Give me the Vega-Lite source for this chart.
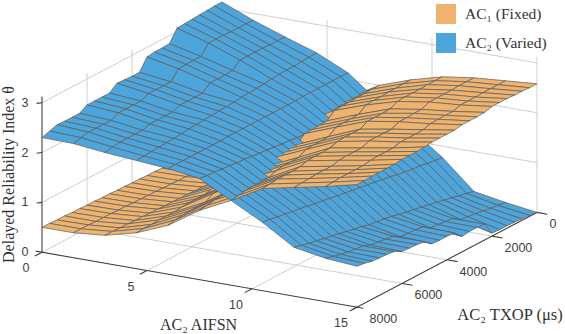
{"$schema":"https://vega.github.io/schema/vega-lite/v6.json","width":565,"height":334,"padding":0,"autosize":{"type":"fit","contains":"padding"},"background":"white","config":{"view":{"stroke":null}},
"datasets":{
"surface":[
{"s":"AC1","a":0,"t":0,"z":0.38},{"s":"AC2","a":0,"t":0,"z":3.12},{"s":"AC1","a":0,"t":333,"z":0.39},{"s":"AC2","a":0,"t":333,"z":3.12},{"s":"AC1","a":0,"t":667,"z":0.39},{"s":"AC2","a":0,"t":667,"z":3.11},{"s":"AC1","a":0,"t":1000,"z":0.4},{"s":"AC2","a":0,"t":1000,"z":3.1},{"s":"AC1","a":0,"t":1333,"z":0.4},{"s":"AC2","a":0,"t":1333,"z":3.09},{"s":"AC1","a":0,"t":1667,"z":0.41},{"s":"AC2","a":0,"t":1667,"z":3.08},{"s":"AC1","a":0,"t":2000,"z":0.41},{"s":"AC2","a":0,"t":2000,"z":3.07},{"s":"AC1","a":0,"t":2333,"z":0.42},{"s":"AC2","a":0,"t":2333,"z":2.84},{"s":"AC1","a":0,"t":2667,"z":0.42},{"s":"AC2","a":0,"t":2667,"z":2.83},{"s":"AC1","a":0,"t":3000,"z":0.43},{"s":"AC2","a":0,"t":3000,"z":2.83},{"s":"AC1","a":0,"t":3333,"z":0.43},{"s":"AC2","a":0,"t":3333,"z":2.81},{"s":"AC1","a":0,"t":3667,"z":0.44},{"s":"AC2","a":0,"t":3667,"z":2.58},{"s":"AC1","a":0,"t":4000,"z":0.44},{"s":"AC2","a":0,"t":4000,"z":2.58},{"s":"AC1","a":0,"t":4333,"z":0.45},{"s":"AC2","a":0,"t":4333,"z":2.59},{"s":"AC1","a":0,"t":4667,"z":0.45},{"s":"AC2","a":0,"t":4667,"z":2.6},{"s":"AC1","a":0,"t":5000,"z":0.46},{"s":"AC2","a":0,"t":5000,"z":2.48},{"s":"AC1","a":0,"t":5333,"z":0.46},{"s":"AC2","a":0,"t":5333,"z":2.48},{"s":"AC1","a":0,"t":5667,"z":0.47},{"s":"AC2","a":0,"t":5667,"z":2.48},{"s":"AC1","a":0,"t":6000,"z":0.47},{"s":"AC2","a":0,"t":6000,"z":2.48},{"s":"AC1","a":0,"t":6333,"z":0.48},{"s":"AC2","a":0,"t":6333,"z":2.39},{"s":"AC1","a":0,"t":6667,"z":0.48},{"s":"AC2","a":0,"t":6667,"z":2.39},{"s":"AC1","a":0,"t":7000,"z":0.49},{"s":"AC2","a":0,"t":7000,"z":2.39},{"s":"AC1","a":0,"t":7333,"z":0.49},{"s":"AC2","a":0,"t":7333,"z":2.4},{"s":"AC1","a":0,"t":7667,"z":0.5},{"s":"AC2","a":0,"t":7667,"z":2.35},{"s":"AC1","a":0,"t":8000,"z":0.5},{"s":"AC2","a":0,"t":8000,"z":2.3},
{"s":"AC1","a":1.5,"t":0,"z":0.39},{"s":"AC2","a":1.5,"t":0,"z":2.86},{"s":"AC1","a":1.5,"t":333,"z":0.4},{"s":"AC2","a":1.5,"t":333,"z":2.87},{"s":"AC1","a":1.5,"t":667,"z":0.4},{"s":"AC2","a":1.5,"t":667,"z":2.87},{"s":"AC1","a":1.5,"t":1000,"z":0.41},{"s":"AC2","a":1.5,"t":1000,"z":2.87},{"s":"AC1","a":1.5,"t":1333,"z":0.41},{"s":"AC2","a":1.5,"t":1333,"z":2.88},{"s":"AC1","a":1.5,"t":1667,"z":0.42},{"s":"AC2","a":1.5,"t":1667,"z":2.88},{"s":"AC1","a":1.5,"t":2000,"z":0.42},{"s":"AC2","a":1.5,"t":2000,"z":2.88},{"s":"AC1","a":1.5,"t":2333,"z":0.43},{"s":"AC2","a":1.5,"t":2333,"z":2.69},{"s":"AC1","a":1.5,"t":2667,"z":0.43},{"s":"AC2","a":1.5,"t":2667,"z":2.69},{"s":"AC1","a":1.5,"t":3000,"z":0.44},{"s":"AC2","a":1.5,"t":3000,"z":2.69},{"s":"AC1","a":1.5,"t":3333,"z":0.44},{"s":"AC2","a":1.5,"t":3333,"z":2.68},{"s":"AC1","a":1.5,"t":3667,"z":0.45},{"s":"AC2","a":1.5,"t":3667,"z":2.5},{"s":"AC1","a":1.5,"t":4000,"z":0.45},{"s":"AC2","a":1.5,"t":4000,"z":2.5},{"s":"AC1","a":1.5,"t":4333,"z":0.46},{"s":"AC2","a":1.5,"t":4333,"z":2.5},{"s":"AC1","a":1.5,"t":4667,"z":0.46},{"s":"AC2","a":1.5,"t":4667,"z":2.5},{"s":"AC1","a":1.5,"t":5000,"z":0.47},{"s":"AC2","a":1.5,"t":5000,"z":2.43},{"s":"AC1","a":1.5,"t":5333,"z":0.47},{"s":"AC2","a":1.5,"t":5333,"z":2.43},{"s":"AC1","a":1.5,"t":5667,"z":0.48},{"s":"AC2","a":1.5,"t":5667,"z":2.43},{"s":"AC1","a":1.5,"t":6000,"z":0.48},{"s":"AC2","a":1.5,"t":6000,"z":2.43},{"s":"AC1","a":1.5,"t":6333,"z":0.49},{"s":"AC2","a":1.5,"t":6333,"z":2.36},{"s":"AC1","a":1.5,"t":6667,"z":0.49},{"s":"AC2","a":1.5,"t":6667,"z":2.36},{"s":"AC1","a":1.5,"t":7000,"z":0.49},{"s":"AC2","a":1.5,"t":7000,"z":2.36},{"s":"AC1","a":1.5,"t":7333,"z":0.5},{"s":"AC2","a":1.5,"t":7333,"z":2.36},{"s":"AC1","a":1.5,"t":7667,"z":0.5},{"s":"AC2","a":1.5,"t":7667,"z":2.33},{"s":"AC1","a":1.5,"t":8000,"z":0.5},{"s":"AC2","a":1.5,"t":8000,"z":2.29},
{"s":"AC1","a":3,"t":0,"z":0.43},{"s":"AC2","a":3,"t":0,"z":2.64},{"s":"AC1","a":3,"t":333,"z":0.44},{"s":"AC2","a":3,"t":333,"z":2.64},{"s":"AC1","a":3,"t":667,"z":0.45},{"s":"AC2","a":3,"t":667,"z":2.64},{"s":"AC1","a":3,"t":1000,"z":0.46},{"s":"AC2","a":3,"t":1000,"z":2.65},{"s":"AC1","a":3,"t":1333,"z":0.46},{"s":"AC2","a":3,"t":1333,"z":2.65},{"s":"AC1","a":3,"t":1667,"z":0.47},{"s":"AC2","a":3,"t":1667,"z":2.65},{"s":"AC1","a":3,"t":2000,"z":0.47},{"s":"AC2","a":3,"t":2000,"z":2.65},{"s":"AC1","a":3,"t":2333,"z":0.48},{"s":"AC2","a":3,"t":2333,"z":2.52},{"s":"AC1","a":3,"t":2667,"z":0.48},{"s":"AC2","a":3,"t":2667,"z":2.51},{"s":"AC1","a":3,"t":3000,"z":0.49},{"s":"AC2","a":3,"t":3000,"z":2.51},{"s":"AC1","a":3,"t":3333,"z":0.49},{"s":"AC2","a":3,"t":3333,"z":2.51},{"s":"AC1","a":3,"t":3667,"z":0.5},{"s":"AC2","a":3,"t":3667,"z":2.38},{"s":"AC1","a":3,"t":4000,"z":0.5},{"s":"AC2","a":3,"t":4000,"z":2.38},{"s":"AC1","a":3,"t":4333,"z":0.51},{"s":"AC2","a":3,"t":4333,"z":2.38},{"s":"AC1","a":3,"t":4667,"z":0.51},{"s":"AC2","a":3,"t":4667,"z":2.38},{"s":"AC1","a":3,"t":5000,"z":0.52},{"s":"AC2","a":3,"t":5000,"z":2.32},{"s":"AC1","a":3,"t":5333,"z":0.52},{"s":"AC2","a":3,"t":5333,"z":2.32},{"s":"AC1","a":3,"t":5667,"z":0.53},{"s":"AC2","a":3,"t":5667,"z":2.32},{"s":"AC1","a":3,"t":6000,"z":0.53},{"s":"AC2","a":3,"t":6000,"z":2.32},{"s":"AC1","a":3,"t":6333,"z":0.54},{"s":"AC2","a":3,"t":6333,"z":2.27},{"s":"AC1","a":3,"t":6667,"z":0.54},{"s":"AC2","a":3,"t":6667,"z":2.27},{"s":"AC1","a":3,"t":7000,"z":0.55},{"s":"AC2","a":3,"t":7000,"z":2.27},{"s":"AC1","a":3,"t":7333,"z":0.55},{"s":"AC2","a":3,"t":7333,"z":2.27},{"s":"AC1","a":3,"t":7667,"z":0.56},{"s":"AC2","a":3,"t":7667,"z":2.25},{"s":"AC1","a":3,"t":8000,"z":0.56},{"s":"AC2","a":3,"t":8000,"z":2.22},
{"s":"AC1","a":4.5,"t":0,"z":0.9},{"s":"AC2","a":4.5,"t":0,"z":2.43},{"s":"AC1","a":4.5,"t":333,"z":0.9},{"s":"AC2","a":4.5,"t":333,"z":2.42},{"s":"AC1","a":4.5,"t":667,"z":0.9},{"s":"AC2","a":4.5,"t":667,"z":2.41},{"s":"AC1","a":4.5,"t":1000,"z":0.9},{"s":"AC2","a":4.5,"t":1000,"z":2.4},{"s":"AC1","a":4.5,"t":1333,"z":0.89},{"s":"AC2","a":4.5,"t":1333,"z":2.4},{"s":"AC1","a":4.5,"t":1667,"z":0.89},{"s":"AC2","a":4.5,"t":1667,"z":2.39},{"s":"AC1","a":4.5,"t":2000,"z":0.89},{"s":"AC2","a":4.5,"t":2000,"z":2.38},{"s":"AC1","a":4.5,"t":2333,"z":0.85},{"s":"AC2","a":4.5,"t":2333,"z":2.36},{"s":"AC1","a":4.5,"t":2667,"z":0.85},{"s":"AC2","a":4.5,"t":2667,"z":2.35},{"s":"AC1","a":4.5,"t":3000,"z":0.85},{"s":"AC2","a":4.5,"t":3000,"z":2.34},{"s":"AC1","a":4.5,"t":3333,"z":0.85},{"s":"AC2","a":4.5,"t":3333,"z":2.33},{"s":"AC1","a":4.5,"t":3667,"z":0.81},{"s":"AC2","a":4.5,"t":3667,"z":2.31},{"s":"AC1","a":4.5,"t":4000,"z":0.8},{"s":"AC2","a":4.5,"t":4000,"z":2.3},{"s":"AC1","a":4.5,"t":4333,"z":0.8},{"s":"AC2","a":4.5,"t":4333,"z":2.29},{"s":"AC1","a":4.5,"t":4667,"z":0.8},{"s":"AC2","a":4.5,"t":4667,"z":2.28},{"s":"AC1","a":4.5,"t":5000,"z":0.77},{"s":"AC2","a":4.5,"t":5000,"z":2.27},{"s":"AC1","a":4.5,"t":5333,"z":0.77},{"s":"AC2","a":4.5,"t":5333,"z":2.26},{"s":"AC1","a":4.5,"t":5667,"z":0.77},{"s":"AC2","a":4.5,"t":5667,"z":2.25},{"s":"AC1","a":4.5,"t":6000,"z":0.76},{"s":"AC2","a":4.5,"t":6000,"z":2.23},{"s":"AC1","a":4.5,"t":6333,"z":0.74},{"s":"AC2","a":4.5,"t":6333,"z":2.22},{"s":"AC1","a":4.5,"t":6667,"z":0.74},{"s":"AC2","a":4.5,"t":6667,"z":2.21},{"s":"AC1","a":4.5,"t":7000,"z":0.74},{"s":"AC2","a":4.5,"t":7000,"z":2.2},{"s":"AC1","a":4.5,"t":7333,"z":0.73},{"s":"AC2","a":4.5,"t":7333,"z":2.19},{"s":"AC1","a":4.5,"t":7667,"z":0.73},{"s":"AC2","a":4.5,"t":7667,"z":2.18},{"s":"AC1","a":4.5,"t":8000,"z":0.72},{"s":"AC2","a":4.5,"t":8000,"z":2.17},
{"s":"AC1","a":6,"t":0,"z":1.65},{"s":"AC2","a":6,"t":0,"z":2.14},{"s":"AC1","a":6,"t":333,"z":1.65},{"s":"AC2","a":6,"t":333,"z":2.14},{"s":"AC1","a":6,"t":667,"z":1.64},{"s":"AC2","a":6,"t":667,"z":2.14},{"s":"AC1","a":6,"t":1000,"z":1.64},{"s":"AC2","a":6,"t":1000,"z":2.14},{"s":"AC1","a":6,"t":1333,"z":1.63},{"s":"AC2","a":6,"t":1333,"z":2.14},{"s":"AC1","a":6,"t":1667,"z":1.62},{"s":"AC2","a":6,"t":1667,"z":2.14},{"s":"AC1","a":6,"t":2000,"z":1.62},{"s":"AC2","a":6,"t":2000,"z":2.14},{"s":"AC1","a":6,"t":2333,"z":1.47},{"s":"AC2","a":6,"t":2333,"z":2.13},{"s":"AC1","a":6,"t":2667,"z":1.46},{"s":"AC2","a":6,"t":2667,"z":2.13},{"s":"AC1","a":6,"t":3000,"z":1.46},{"s":"AC2","a":6,"t":3000,"z":2.13},{"s":"AC1","a":6,"t":3333,"z":1.45},{"s":"AC2","a":6,"t":3333,"z":2.13},{"s":"AC1","a":6,"t":3667,"z":1.3},{"s":"AC2","a":6,"t":3667,"z":2.13},{"s":"AC1","a":6,"t":4000,"z":1.29},{"s":"AC2","a":6,"t":4000,"z":2.13},{"s":"AC1","a":6,"t":4333,"z":1.29},{"s":"AC2","a":6,"t":4333,"z":2.13},{"s":"AC1","a":6,"t":4667,"z":1.28},{"s":"AC2","a":6,"t":4667,"z":2.13},{"s":"AC1","a":6,"t":5000,"z":1.17},{"s":"AC2","a":6,"t":5000,"z":2.13},{"s":"AC1","a":6,"t":5333,"z":1.16},{"s":"AC2","a":6,"t":5333,"z":2.13},{"s":"AC1","a":6,"t":5667,"z":1.15},{"s":"AC2","a":6,"t":5667,"z":2.12},{"s":"AC1","a":6,"t":6000,"z":1.14},{"s":"AC2","a":6,"t":6000,"z":2.12},{"s":"AC1","a":6,"t":6333,"z":1.05},{"s":"AC2","a":6,"t":6333,"z":2.12},{"s":"AC1","a":6,"t":6667,"z":1.05},{"s":"AC2","a":6,"t":6667,"z":2.12},{"s":"AC1","a":6,"t":7000,"z":1.04},{"s":"AC2","a":6,"t":7000,"z":2.12},{"s":"AC1","a":6,"t":7333,"z":1.03},{"s":"AC2","a":6,"t":7333,"z":2.12},{"s":"AC1","a":6,"t":7667,"z":1.01},{"s":"AC2","a":6,"t":7667,"z":2.12},{"s":"AC1","a":6,"t":8000,"z":0.98},{"s":"AC2","a":6,"t":8000,"z":2.12},
{"s":"AC2","a":7.5,"t":0,"z":1.65},{"s":"AC1","a":7.5,"t":0,"z":2},{"s":"AC2","a":7.5,"t":333,"z":1.67},{"s":"AC1","a":7.5,"t":333,"z":2},{"s":"AC2","a":7.5,"t":667,"z":1.68},{"s":"AC1","a":7.5,"t":667,"z":1.99},{"s":"AC2","a":7.5,"t":1000,"z":1.69},{"s":"AC1","a":7.5,"t":1000,"z":1.99},{"s":"AC2","a":7.5,"t":1333,"z":1.7},{"s":"AC1","a":7.5,"t":1333,"z":1.98},{"s":"AC2","a":7.5,"t":1667,"z":1.72},{"s":"AC1","a":7.5,"t":1667,"z":1.98},{"s":"AC2","a":7.5,"t":2000,"z":1.73},{"s":"AC1","a":7.5,"t":2000,"z":1.97},{"s":"AC2","a":7.5,"t":2333,"z":1.76},{"s":"AC1","a":7.5,"t":2333,"z":1.84},{"s":"AC2","a":7.5,"t":2667,"z":1.77},{"s":"AC1","a":7.5,"t":2667,"z":1.83},{"s":"AC2","a":7.5,"t":3000,"z":1.79},{"s":"AC1","a":7.5,"t":3000,"z":1.82},{"s":"AC2","a":7.5,"t":3333,"z":1.8},{"s":"AC1","a":7.5,"t":3333,"z":1.82},{"s":"AC2","a":7.5,"t":3667,"z":1.82},{"s":"AC1","a":7.5,"t":3667,"z":1.68},{"s":"AC2","a":7.5,"t":4000,"z":1.84},{"s":"AC1","a":7.5,"t":4000,"z":1.68},{"s":"AC2","a":7.5,"t":4333,"z":1.85},{"s":"AC1","a":7.5,"t":4333,"z":1.67},{"s":"AC2","a":7.5,"t":4667,"z":1.87},{"s":"AC1","a":7.5,"t":4667,"z":1.66},{"s":"AC2","a":7.5,"t":5000,"z":1.89},{"s":"AC1","a":7.5,"t":5000,"z":1.56},{"s":"AC1","a":7.5,"t":5333,"z":1.55},{"s":"AC2","a":7.5,"t":5333,"z":1.9},{"s":"AC1","a":7.5,"t":5667,"z":1.55},{"s":"AC2","a":7.5,"t":5667,"z":1.92},{"s":"AC1","a":7.5,"t":6000,"z":1.54},{"s":"AC2","a":7.5,"t":6000,"z":1.94},{"s":"AC1","a":7.5,"t":6333,"z":1.46},{"s":"AC2","a":7.5,"t":6333,"z":1.95},{"s":"AC1","a":7.5,"t":6667,"z":1.45},{"s":"AC2","a":7.5,"t":6667,"z":1.97},{"s":"AC1","a":7.5,"t":7000,"z":1.44},{"s":"AC2","a":7.5,"t":7000,"z":1.98},{"s":"AC1","a":7.5,"t":7333,"z":1.44},{"s":"AC2","a":7.5,"t":7333,"z":2},{"s":"AC1","a":7.5,"t":7667,"z":1.41},{"s":"AC2","a":7.5,"t":7667,"z":2.01},{"s":"AC1","a":7.5,"t":8000,"z":1.39},{"s":"AC2","a":7.5,"t":8000,"z":2.03},
{"s":"AC2","a":9,"t":0,"z":1.22},{"s":"AC1","a":9,"t":0,"z":2.22},{"s":"AC2","a":9,"t":333,"z":1.24},{"s":"AC1","a":9,"t":333,"z":2.22},{"s":"AC2","a":9,"t":667,"z":1.25},{"s":"AC1","a":9,"t":667,"z":2.21},{"s":"AC2","a":9,"t":1000,"z":1.27},{"s":"AC1","a":9,"t":1000,"z":2.21},{"s":"AC2","a":9,"t":1333,"z":1.29},{"s":"AC1","a":9,"t":1333,"z":2.2},{"s":"AC2","a":9,"t":1667,"z":1.31},{"s":"AC1","a":9,"t":1667,"z":2.2},{"s":"AC2","a":9,"t":2000,"z":1.33},{"s":"AC1","a":9,"t":2000,"z":2.19},{"s":"AC2","a":9,"t":2333,"z":1.35},{"s":"AC1","a":9,"t":2333,"z":2.08},{"s":"AC2","a":9,"t":2667,"z":1.37},{"s":"AC1","a":9,"t":2667,"z":2.07},{"s":"AC2","a":9,"t":3000,"z":1.39},{"s":"AC1","a":9,"t":3000,"z":2.07},{"s":"AC2","a":9,"t":3333,"z":1.41},{"s":"AC1","a":9,"t":3333,"z":2.06},{"s":"AC2","a":9,"t":3667,"z":1.44},{"s":"AC1","a":9,"t":3667,"z":1.95},{"s":"AC2","a":9,"t":4000,"z":1.46},{"s":"AC1","a":9,"t":4000,"z":1.94},{"s":"AC2","a":9,"t":4333,"z":1.47},{"s":"AC1","a":9,"t":4333,"z":1.94},{"s":"AC2","a":9,"t":4667,"z":1.49},{"s":"AC1","a":9,"t":4667,"z":1.93},{"s":"AC2","a":9,"t":5000,"z":1.52},{"s":"AC1","a":9,"t":5000,"z":1.85},{"s":"AC2","a":9,"t":5333,"z":1.54},{"s":"AC1","a":9,"t":5333,"z":1.84},{"s":"AC2","a":9,"t":5667,"z":1.56},{"s":"AC1","a":9,"t":5667,"z":1.84},{"s":"AC2","a":9,"t":6000,"z":1.58},{"s":"AC1","a":9,"t":6000,"z":1.82},{"s":"AC2","a":9,"t":6333,"z":1.6},{"s":"AC1","a":9,"t":6333,"z":1.76},{"s":"AC2","a":9,"t":6667,"z":1.62},{"s":"AC1","a":9,"t":6667,"z":1.75},{"s":"AC2","a":9,"t":7000,"z":1.64},{"s":"AC1","a":9,"t":7000,"z":1.75},{"s":"AC2","a":9,"t":7333,"z":1.66},{"s":"AC1","a":9,"t":7333,"z":1.74},{"s":"AC2","a":9,"t":7667,"z":1.68},{"s":"AC1","a":9,"t":7667,"z":1.72},{"s":"AC2","a":9,"t":8000,"z":1.7},{"s":"AC1","a":9,"t":8000,"z":1.7},
{"s":"AC2","a":10.5,"t":0,"z":0.77},{"s":"AC1","a":10.5,"t":0,"z":2.39},{"s":"AC2","a":10.5,"t":333,"z":0.79},{"s":"AC1","a":10.5,"t":333,"z":2.39},{"s":"AC2","a":10.5,"t":667,"z":0.81},{"s":"AC1","a":10.5,"t":667,"z":2.39},{"s":"AC2","a":10.5,"t":1000,"z":0.84},{"s":"AC1","a":10.5,"t":1000,"z":2.38},{"s":"AC2","a":10.5,"t":1333,"z":0.85},{"s":"AC1","a":10.5,"t":1333,"z":2.38},{"s":"AC2","a":10.5,"t":1667,"z":0.88},{"s":"AC1","a":10.5,"t":1667,"z":2.38},{"s":"AC2","a":10.5,"t":2000,"z":0.9},{"s":"AC1","a":10.5,"t":2000,"z":2.37},{"s":"AC2","a":10.5,"t":2333,"z":0.94},{"s":"AC1","a":10.5,"t":2333,"z":2.3},{"s":"AC2","a":10.5,"t":2667,"z":0.96},{"s":"AC1","a":10.5,"t":2667,"z":2.29},{"s":"AC2","a":10.5,"t":3000,"z":0.99},{"s":"AC1","a":10.5,"t":3000,"z":2.29},{"s":"AC2","a":10.5,"t":3333,"z":1.01},{"s":"AC1","a":10.5,"t":3333,"z":2.29},{"s":"AC2","a":10.5,"t":3667,"z":1.04},{"s":"AC1","a":10.5,"t":3667,"z":2.21},{"s":"AC2","a":10.5,"t":4000,"z":1.06},{"s":"AC1","a":10.5,"t":4000,"z":2.21},{"s":"AC2","a":10.5,"t":4333,"z":1.09},{"s":"AC1","a":10.5,"t":4333,"z":2.21},{"s":"AC2","a":10.5,"t":4667,"z":1.11},{"s":"AC1","a":10.5,"t":4667,"z":2.2},{"s":"AC2","a":10.5,"t":5000,"z":1.14},{"s":"AC1","a":10.5,"t":5000,"z":2.15},{"s":"AC2","a":10.5,"t":5333,"z":1.17},{"s":"AC1","a":10.5,"t":5333,"z":2.14},{"s":"AC2","a":10.5,"t":5667,"z":1.19},{"s":"AC1","a":10.5,"t":5667,"z":2.14},{"s":"AC2","a":10.5,"t":6000,"z":1.22},{"s":"AC1","a":10.5,"t":6000,"z":2.13},{"s":"AC2","a":10.5,"t":6333,"z":1.25},{"s":"AC1","a":10.5,"t":6333,"z":2.09},{"s":"AC2","a":10.5,"t":6667,"z":1.27},{"s":"AC1","a":10.5,"t":6667,"z":2.08},{"s":"AC2","a":10.5,"t":7000,"z":1.3},{"s":"AC1","a":10.5,"t":7000,"z":2.08},{"s":"AC2","a":10.5,"t":7333,"z":1.32},{"s":"AC1","a":10.5,"t":7333,"z":2.08},{"s":"AC2","a":10.5,"t":7667,"z":1.35},{"s":"AC1","a":10.5,"t":7667,"z":2.06},{"s":"AC2","a":10.5,"t":8000,"z":1.37},{"s":"AC1","a":10.5,"t":8000,"z":2.05},
{"s":"AC2","a":12,"t":0,"z":0.2},{"s":"AC1","a":12,"t":0,"z":2.48},{"s":"AC2","a":12,"t":333,"z":0.24},{"s":"AC1","a":12,"t":333,"z":2.48},{"s":"AC2","a":12,"t":667,"z":0.27},{"s":"AC1","a":12,"t":667,"z":2.48},{"s":"AC2","a":12,"t":1000,"z":0.31},{"s":"AC1","a":12,"t":1000,"z":2.47},{"s":"AC2","a":12,"t":1333,"z":0.34},{"s":"AC1","a":12,"t":1333,"z":2.47},{"s":"AC2","a":12,"t":1667,"z":0.38},{"s":"AC1","a":12,"t":1667,"z":2.47},{"s":"AC2","a":12,"t":2000,"z":0.41},{"s":"AC1","a":12,"t":2000,"z":2.47},{"s":"AC2","a":12,"t":2333,"z":0.44},{"s":"AC1","a":12,"t":2333,"z":2.4},{"s":"AC2","a":12,"t":2667,"z":0.47},{"s":"AC1","a":12,"t":2667,"z":2.4},{"s":"AC2","a":12,"t":3000,"z":0.5},{"s":"AC1","a":12,"t":3000,"z":2.39},{"s":"AC2","a":12,"t":3333,"z":0.53},{"s":"AC1","a":12,"t":3333,"z":2.39},{"s":"AC2","a":12,"t":3667,"z":0.57},{"s":"AC1","a":12,"t":3667,"z":2.32},{"s":"AC2","a":12,"t":4000,"z":0.6},{"s":"AC1","a":12,"t":4000,"z":2.32},{"s":"AC2","a":12,"t":4333,"z":0.62},{"s":"AC1","a":12,"t":4333,"z":2.32},{"s":"AC2","a":12,"t":4667,"z":0.64},{"s":"AC1","a":12,"t":4667,"z":2.32},{"s":"AC2","a":12,"t":5000,"z":0.68},{"s":"AC1","a":12,"t":5000,"z":2.26},{"s":"AC2","a":12,"t":5333,"z":0.71},{"s":"AC1","a":12,"t":5333,"z":2.26},{"s":"AC2","a":12,"t":5667,"z":0.74},{"s":"AC1","a":12,"t":5667,"z":2.26},{"s":"AC2","a":12,"t":6000,"z":0.78},{"s":"AC1","a":12,"t":6000,"z":2.25},{"s":"AC2","a":12,"t":6333,"z":0.81},{"s":"AC1","a":12,"t":6333,"z":2.21},{"s":"AC2","a":12,"t":6667,"z":0.84},{"s":"AC1","a":12,"t":6667,"z":2.21},{"s":"AC2","a":12,"t":7000,"z":0.87},{"s":"AC1","a":12,"t":7000,"z":2.21},{"s":"AC2","a":12,"t":7333,"z":0.9},{"s":"AC1","a":12,"t":7333,"z":2.2},{"s":"AC2","a":12,"t":7667,"z":0.94},{"s":"AC1","a":12,"t":7667,"z":2.19},{"s":"AC2","a":12,"t":8000,"z":0.98},{"s":"AC1","a":12,"t":8000,"z":2.18},
{"s":"AC2","a":13.5,"t":0,"z":0.09},{"s":"AC1","a":13.5,"t":0,"z":2.53},{"s":"AC2","a":13.5,"t":333,"z":0.11},{"s":"AC1","a":13.5,"t":333,"z":2.53},{"s":"AC2","a":13.5,"t":667,"z":0.13},{"s":"AC1","a":13.5,"t":667,"z":2.53},{"s":"AC2","a":13.5,"t":1000,"z":0.16},{"s":"AC1","a":13.5,"t":1000,"z":2.53},{"s":"AC2","a":13.5,"t":1333,"z":0.18},{"s":"AC1","a":13.5,"t":1333,"z":2.52},{"s":"AC2","a":13.5,"t":1667,"z":0.2},{"s":"AC1","a":13.5,"t":1667,"z":2.52},{"s":"AC2","a":13.5,"t":2000,"z":0.22},{"s":"AC1","a":13.5,"t":2000,"z":2.52},{"s":"AC2","a":13.5,"t":2333,"z":0.32},{"s":"AC1","a":13.5,"t":2333,"z":2.47},{"s":"AC2","a":13.5,"t":2667,"z":0.34},{"s":"AC1","a":13.5,"t":2667,"z":2.47},{"s":"AC2","a":13.5,"t":3000,"z":0.36},{"s":"AC1","a":13.5,"t":3000,"z":2.47},{"s":"AC2","a":13.5,"t":3333,"z":0.37},{"s":"AC1","a":13.5,"t":3333,"z":2.46},{"s":"AC2","a":13.5,"t":3667,"z":0.47},{"s":"AC1","a":13.5,"t":3667,"z":2.42},{"s":"AC2","a":13.5,"t":4000,"z":0.49},{"s":"AC1","a":13.5,"t":4000,"z":2.41},{"s":"AC2","a":13.5,"t":4333,"z":0.5},{"s":"AC1","a":13.5,"t":4333,"z":2.41},{"s":"AC2","a":13.5,"t":4667,"z":0.51},{"s":"AC1","a":13.5,"t":4667,"z":2.41},{"s":"AC2","a":13.5,"t":5000,"z":0.6},{"s":"AC1","a":13.5,"t":5000,"z":2.37},{"s":"AC2","a":13.5,"t":5333,"z":0.62},{"s":"AC1","a":13.5,"t":5333,"z":2.37},{"s":"AC2","a":13.5,"t":5667,"z":0.64},{"s":"AC1","a":13.5,"t":5667,"z":2.37},{"s":"AC2","a":13.5,"t":6000,"z":0.66},{"s":"AC1","a":13.5,"t":6000,"z":2.36},{"s":"AC2","a":13.5,"t":6333,"z":0.72},{"s":"AC1","a":13.5,"t":6333,"z":2.33},{"s":"AC2","a":13.5,"t":6667,"z":0.74},{"s":"AC1","a":13.5,"t":6667,"z":2.33},{"s":"AC2","a":13.5,"t":7000,"z":0.76},{"s":"AC1","a":13.5,"t":7000,"z":2.33},{"s":"AC2","a":13.5,"t":7333,"z":0.79},{"s":"AC1","a":13.5,"t":7333,"z":2.33},{"s":"AC2","a":13.5,"t":7667,"z":0.83},{"s":"AC1","a":13.5,"t":7667,"z":2.32},{"s":"AC2","a":13.5,"t":8000,"z":0.87},{"s":"AC1","a":13.5,"t":8000,"z":2.31},
{"s":"AC2","a":15,"t":0,"z":0},{"s":"AC1","a":15,"t":0,"z":2.58},{"s":"AC2","a":15,"t":333,"z":0.02},{"s":"AC1","a":15,"t":333,"z":2.58},{"s":"AC2","a":15,"t":667,"z":0.03},{"s":"AC1","a":15,"t":667,"z":2.59},{"s":"AC2","a":15,"t":1000,"z":0.04},{"s":"AC1","a":15,"t":1000,"z":2.59},{"s":"AC2","a":15,"t":1333,"z":0.05},{"s":"AC1","a":15,"t":1333,"z":2.6},{"s":"AC2","a":15,"t":1667,"z":0.05},{"s":"AC1","a":15,"t":1667,"z":2.6},{"s":"AC2","a":15,"t":2000,"z":0.06},{"s":"AC1","a":15,"t":2000,"z":2.6},{"s":"AC2","a":15,"t":2333,"z":0.32},{"s":"AC1","a":15,"t":2333,"z":2.56},{"s":"AC2","a":15,"t":2667,"z":0.33},{"s":"AC1","a":15,"t":2667,"z":2.55},{"s":"AC2","a":15,"t":3000,"z":0.33},{"s":"AC1","a":15,"t":3000,"z":2.55},{"s":"AC2","a":15,"t":3333,"z":0.31},{"s":"AC1","a":15,"t":3333,"z":2.55},{"s":"AC2","a":15,"t":3667,"z":0.46},{"s":"AC1","a":15,"t":3667,"z":2.52},{"s":"AC2","a":15,"t":4000,"z":0.47},{"s":"AC1","a":15,"t":4000,"z":2.52},{"s":"AC2","a":15,"t":4333,"z":0.47},{"s":"AC1","a":15,"t":4333,"z":2.52},{"s":"AC2","a":15,"t":4667,"z":0.48},{"s":"AC1","a":15,"t":4667,"z":2.52},{"s":"AC2","a":15,"t":5000,"z":0.6},{"s":"AC1","a":15,"t":5000,"z":2.5},{"s":"AC2","a":15,"t":5333,"z":0.62},{"s":"AC1","a":15,"t":5333,"z":2.49},{"s":"AC2","a":15,"t":5667,"z":0.63},{"s":"AC1","a":15,"t":5667,"z":2.49},{"s":"AC2","a":15,"t":6000,"z":0.64},{"s":"AC1","a":15,"t":6000,"z":2.49},{"s":"AC2","a":15,"t":6333,"z":0.72},{"s":"AC1","a":15,"t":6333,"z":2.47},{"s":"AC2","a":15,"t":6667,"z":0.74},{"s":"AC1","a":15,"t":6667,"z":2.47},{"s":"AC2","a":15,"t":7000,"z":0.75},{"s":"AC1","a":15,"t":7000,"z":2.47},{"s":"AC2","a":15,"t":7333,"z":0.76},{"s":"AC1","a":15,"t":7333,"z":2.47},{"s":"AC2","a":15,"t":7667,"z":0.8},{"s":"AC1","a":15,"t":7667,"z":2.46},{"s":"AC2","a":15,"t":8000,"z":0.82},{"s":"AC1","a":15,"t":8000,"z":2.46}
],
"grid":[{"l":"z1a","a":0,"t":0,"z":1},{"l":"z1a","a":15,"t":0,"z":1},{"l":"z2a","a":0,"t":0,"z":2},{"l":"z2a","a":15,"t":0,"z":2},{"l":"z3a","a":0,"t":0,"z":3},{"l":"z3a","a":15,"t":0,"z":3},{"l":"z1t","a":0,"t":0,"z":1},{"l":"z1t","a":0,"t":8000,"z":1},{"l":"z2t","a":0,"t":0,"z":2},{"l":"z2t","a":0,"t":8000,"z":2},{"l":"z3t","a":0,"t":0,"z":3},{"l":"z3t","a":0,"t":8000,"z":3},{"l":"v0","a":0,"t":0,"z":0},{"l":"v0","a":0,"t":0,"z":3.12},{"l":"v5","a":5,"t":0,"z":0},{"l":"v5","a":5,"t":0,"z":3.12},{"l":"v10","a":10,"t":0,"z":0},{"l":"v10","a":10,"t":0,"z":3.12},{"l":"v15","a":15,"t":0,"z":0},{"l":"v15","a":15,"t":0,"z":3.12},{"l":"w2","a":0,"t":2000,"z":0},{"l":"w2","a":0,"t":2000,"z":3.12},{"l":"w4","a":0,"t":4000,"z":0},{"l":"w4","a":0,"t":4000,"z":3.12},{"l":"w6","a":0,"t":6000,"z":0},{"l":"w6","a":0,"t":6000,"z":3.12},{"l":"f5","a":5,"t":0,"z":0},{"l":"f5","a":5,"t":8000,"z":0},{"l":"f10","a":10,"t":0,"z":0},{"l":"f10","a":10,"t":8000,"z":0},{"l":"f2","a":0,"t":2000,"z":0},{"l":"f2","a":15,"t":2000,"z":0},{"l":"f4","a":0,"t":4000,"z":0},{"l":"f4","a":15,"t":4000,"z":0},{"l":"f6","a":0,"t":6000,"z":0},{"l":"f6","a":15,"t":6000,"z":0},{"l":"b0","a":0,"t":0,"z":0},{"l":"b0","a":15,"t":0,"z":0},{"l":"c0","a":0,"t":0,"z":0},{"l":"c0","a":0,"t":8000,"z":0}],
"axes":[{"l":"ax","a":-0.3,"t":8000,"z":0},{"l":"ax","a":15.3,"t":8000,"z":0},{"l":"at","a":15,"t":8200,"z":0},{"l":"at","a":15,"t":0,"z":0},{"l":"az","a":0,"t":8000,"z":0},{"l":"az","a":0,"t":8000,"z":3.12},{"l":"ta0","a":0,"t":8000,"z":0},{"l":"ta0","a":0,"t":8320,"z":0},{"l":"ta5","a":5,"t":8000,"z":0},{"l":"ta5","a":5,"t":8320,"z":0},{"l":"ta10","a":10,"t":8000,"z":0},{"l":"ta10","a":10,"t":8320,"z":0},{"l":"ta15","a":15,"t":8000,"z":0},{"l":"ta15","a":15,"t":8320,"z":0},{"l":"tt0","a":15,"t":0,"z":0},{"l":"tt0","a":15.5,"t":0,"z":0},{"l":"tt2","a":15,"t":2000,"z":0},{"l":"tt2","a":15.5,"t":2000,"z":0},{"l":"tt4","a":15,"t":4000,"z":0},{"l":"tt4","a":15.5,"t":4000,"z":0},{"l":"tt6","a":15,"t":6000,"z":0},{"l":"tt6","a":15.5,"t":6000,"z":0},{"l":"tz1","a":0,"t":8000,"z":1},{"l":"tz1","a":-0.15,"t":8100,"z":1},{"l":"tz2","a":0,"t":8000,"z":2},{"l":"tz2","a":-0.15,"t":8100,"z":2},{"l":"tz3","a":0,"t":8000,"z":3},{"l":"tz3","a":-0.15,"t":8100,"z":3}],
"labels":[{"g":"z","a":0,"t":8000,"z":0,"text":"0"},{"g":"z","a":0,"t":8000,"z":1,"text":"1"},{"g":"z","a":0,"t":8000,"z":2,"text":"2"},{"g":"z","a":0,"t":8000,"z":3,"text":"3"},{"g":"a","a":0,"t":8000,"z":0,"text":"0"},{"g":"a","a":5,"t":8000,"z":0,"text":"5"},{"g":"a","a":10,"t":8000,"z":0,"text":"10"},{"g":"a","a":15,"t":8000,"z":0,"text":"15"},{"g":"t","a":15,"t":0,"z":0,"text":"0"},{"g":"t","a":15,"t":2000,"z":0,"text":"2000"},{"g":"t","a":15,"t":4000,"z":0,"text":"4000"},{"g":"t","a":15,"t":6000,"z":0,"text":"6000"},{"g":"t","a":15,"t":8000,"z":0,"text":"8000"},{"g":"ta","a":7.5,"t":8000,"z":0,"text":"AC₂ AIFSN"},{"g":"tt","a":15,"t":4000,"z":0,"text":"AC₂ TXOP (μs)"},{"g":"tz","a":0,"t":8000,"z":1.5,"text":"Delayed Reliability Index θ"}]
},
"layer":[
{"data":{"name":"grid"},"transform":[{"calculate":"42+21*datum.a+180*(8000-datum.t)/8000","as":"px"},{"calculate":"252+3.67*datum.a-95*(8000-datum.t)/8000-50*datum.z","as":"py"}],"mark":{"type":"line","stroke":"#cfcfcf","strokeWidth":1},"encoding":{"x":{"field":"px","type":"quantitative","scale":{"domain":[0,565],"nice":false,"zero":false},"axis":null},"y":{"field":"py","type":"quantitative","scale":{"domain":[334,0],"nice":false,"zero":false},"axis":null},"detail":{"field":"l"}}},
{"data":{"name":"axes"},"transform":[{"calculate":"42+21*datum.a+180*(8000-datum.t)/8000","as":"px"},{"calculate":"252+3.67*datum.a-95*(8000-datum.t)/8000-50*datum.z","as":"py"}],"mark":{"type":"line","stroke":"#404040","strokeWidth":1.1},"encoding":{"x":{"field":"px","type":"quantitative","axis":null},"y":{"field":"py","type":"quantitative","axis":null},"detail":{"field":"l"}}},
{"data":{"name":"surface"},"transform":[{"calculate":"[0,1,2,3,4]","as":"corners"},{"flatten":["corners"],"as":["k"]},{"calculate":"round(datum.a/1.5)-((datum.k==1||datum.k==2)?1:0)","as":"qi"},{"calculate":"round(datum.t/333.333)-((datum.k==2||datum.k==3)?1:0)","as":"qj"},{"filter":"datum.qi>=0&&datum.qj>=0&&datum.qi<10&&datum.qj<24"},{"calculate":"datum.s+'_'+datum.qi+'_'+datum.qj","as":"quad"},{"calculate":"42+21*datum.a+180*(8000-datum.t)/8000","as":"px"},{"calculate":"252+3.67*datum.a-95*(8000-datum.t)/8000-50*datum.z","as":"py"}],"mark":{"type":"line","filled":true,"stroke":"#5a5a5a","strokeWidth":0.7},"encoding":{"x":{"field":"px","type":"quantitative","axis":null},"y":{"field":"py","type":"quantitative","axis":null},"detail":{"field":"quad"},"order":{"field":"k","type":"ordinal"},"fill":{"field":"s","type":"nominal","scale":{"domain":["AC1","AC2"],"range":["#EDB36F","#4EA5DB"]},"legend":{"orient":"none","legendX":436,"legendY":3,"title":null,"symbolType":"square","symbolSize":400,"symbolStrokeWidth":0,"labelFont":"Liberation Serif","labelFontSize":15.5,"labelColor":"#333333","labelOffset":9,"rowPadding":9,"labelExpr":"datum.label=='AC1'?'AC₁ (Fixed)':'AC₂ (Varied)'"}}}},
{"data":{"name":"labels"},"transform":[{"filter":"datum.g=='z'"},{"calculate":"42+21*datum.a+180*(8000-datum.t)/8000","as":"px"},{"calculate":"252+3.67*datum.a-95*(8000-datum.t)/8000-50*datum.z","as":"py"}],"mark":{"type":"text","font":"Liberation Sans","fontSize":12.5,"color":"#404040","dx":-17,"dy":0},"encoding":{"x":{"field":"px","type":"quantitative","axis":null},"y":{"field":"py","type":"quantitative","axis":null},"text":{"field":"text"}}},
{"data":{"name":"labels"},"transform":[{"filter":"datum.g=='a'"},{"calculate":"42+21*datum.a+180*(8000-datum.t)/8000","as":"px"},{"calculate":"252+3.67*datum.a-95*(8000-datum.t)/8000-50*datum.z","as":"py"}],"mark":{"type":"text","font":"Liberation Sans","fontSize":12.5,"color":"#404040","dx":-16,"dy":16},"encoding":{"x":{"field":"px","type":"quantitative","axis":null},"y":{"field":"py","type":"quantitative","axis":null},"text":{"field":"text"}}},
{"data":{"name":"labels"},"transform":[{"filter":"datum.g=='t'"},{"calculate":"42+21*datum.a+180*(8000-datum.t)/8000","as":"px"},{"calculate":"252+3.67*datum.a-95*(8000-datum.t)/8000-50*datum.z","as":"py"}],"mark":{"type":"text","font":"Liberation Sans","fontSize":12.5,"color":"#404040","align":"left","dx":12.5,"dy":12},"encoding":{"x":{"field":"px","type":"quantitative","axis":null},"y":{"field":"py","type":"quantitative","axis":null},"text":{"field":"text"}}},
{"data":{"name":"labels"},"transform":[{"filter":"datum.g=='ta'"},{"calculate":"42+21*datum.a+180*(8000-datum.t)/8000","as":"px"},{"calculate":"252+3.67*datum.a-95*(8000-datum.t)/8000-50*datum.z","as":"py"}],"mark":{"type":"text","font":"Liberation Serif","fontSize":16,"color":"#333333","dx":-1,"dy":45},"encoding":{"x":{"field":"px","type":"quantitative","axis":null},"y":{"field":"py","type":"quantitative","axis":null},"text":{"field":"text"}}},
{"data":{"name":"labels"},"transform":[{"filter":"datum.g=='tt'"},{"calculate":"42+21*datum.a+180*(8000-datum.t)/8000","as":"px"},{"calculate":"252+3.67*datum.a-95*(8000-datum.t)/8000-50*datum.z","as":"py"}],"mark":{"type":"text","font":"Liberation Serif","fontSize":16.5,"color":"#333333","dx":63,"dy":55},"encoding":{"x":{"field":"px","type":"quantitative","axis":null},"y":{"field":"py","type":"quantitative","axis":null},"text":{"field":"text"}}},
{"data":{"name":"labels"},"transform":[{"filter":"datum.g=='tz'"},{"calculate":"42+21*datum.a+180*(8000-datum.t)/8000","as":"px"},{"calculate":"252+3.67*datum.a-95*(8000-datum.t)/8000-50*datum.z","as":"py"}],"mark":{"type":"text","font":"Liberation Serif","fontSize":16,"color":"#333333","angle":270,"dx":3,"dy":-33},"encoding":{"x":{"field":"px","type":"quantitative","axis":null},"y":{"field":"py","type":"quantitative","axis":null},"text":{"field":"text"}}}
]}
